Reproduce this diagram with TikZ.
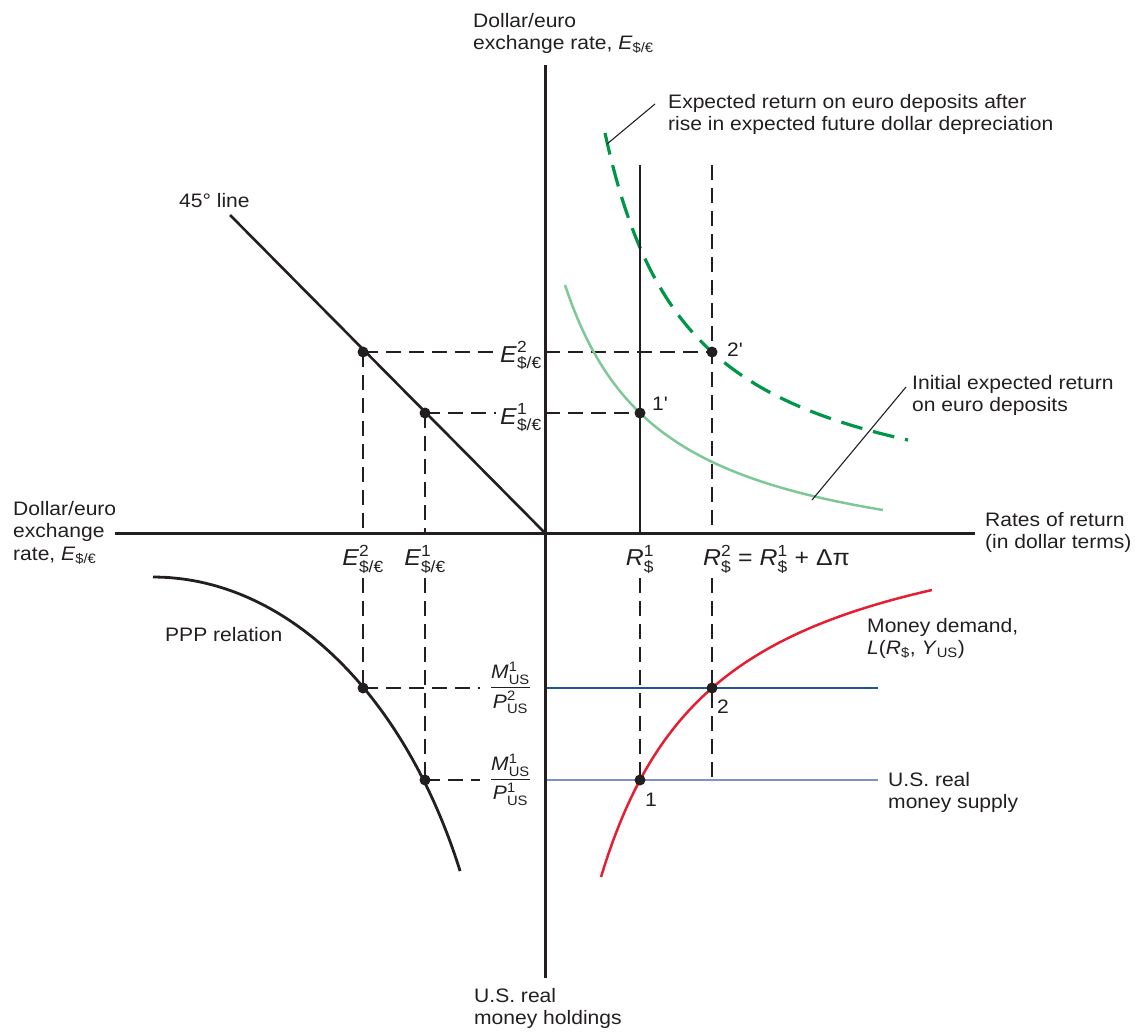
\documentclass[tikz,border=0pt]{standalone}
\usepackage{amsmath}
\usepackage{fontspec}
\setmainfont[FakeStretch=1.08]{Liberation Sans}
\usetikzlibrary{calc}
\definecolor{ink}{RGB}{35,31,32}
\definecolor{dgreen}{RGB}{0,150,72}
\definecolor{lgreen}{RGB}{125,200,150}
\definecolor{mred}{RGB}{230,30,50}
\definecolor{dblue}{RGB}{30,85,150}
\definecolor{lblue}{RGB}{125,145,205}
\newcommand\Esub[1]{\textit{E}$^{\text{#1}}_{\text{\$/€}}$}
\newcommand\Rsub[1]{\textit{R}$^{\text{#1}}_{\text{\$}}$}
\begin{document}
\begin{tikzpicture}[x=1pt,y=-1pt,
  txt/.style={font=\fontsize{19.5}{22.5}\selectfont, text=ink, align=left, inner sep=0pt, anchor=north west},
  mlab/.style={font=\fontsize{23}{25}\selectfont, text=ink, inner sep=0pt},
  fraclab/.style={font=\fontsize{19.5}{21}\selectfont, text=ink, inner xsep=10pt, inner ysep=0pt},
  axisline/.style={draw=ink, line width=3pt},
  guide/.style={draw=ink, line width=1.3pt, dash pattern=on 15pt off 8pt},
  leader/.style={draw=ink, line width=1.1pt},
  dot/.style={circle, fill=ink, inner sep=0pt, minimum size=11pt},
  curve/.style={line width=2.5pt}]
\useasboundingbox (0,0) rectangle (1136,1034);

% ---------- coordinates ----------
\coordinate (O) at (545,533);
\coordinate (vtop) at (545,65);
\coordinate (vbot) at (545,978);
\coordinate (hl) at (115,533);
\coordinate (hr) at (975,533);
\coordinate (l45) at (230,215);
\coordinate (cE2) at (363,352);
\coordinate (cE1) at (425,413);
\coordinate (cA) at (363,688);
\coordinate (cB) at (425,780);
\coordinate (c1p) at (640,413);
\coordinate (c2p) at (712,352);
\coordinate (c1) at (640,780);
\coordinate (c2) at (712,688);
\coordinate (c2low) at (712,780);
\coordinate (s1top) at (640,165);
\coordinate (s2top) at (712,165);
\coordinate (gA) at (363,578);
\coordinate (gB) at (425,578);
\coordinate (g1) at (640,578);
\coordinate (g2) at (712,578);
\coordinate (bAend) at (878,688);
\coordinate (bBend) at (878,780);
\coordinate (ldAfrom) at (607,144);
\coordinate (ldAto) at (655,104);
\coordinate (ldBfrom) at (812,500);
\coordinate (ldBto) at (906,387);

% ---------- text labels ----------
\node[txt] (ytitle) at (473,13) {Dollar/euro\\exchange rate, \textit{E}$_{\text{\$/€}}$};
\node[txt] (xtitleL) at (13,501) {Dollar/euro\\exchange\\rate, \textit{E}$_{\text{\$/€}}$};
\node[txt] (xtitleR) at (985,512) {Rates of return\\(in dollar terms)};
\node[txt] (btitle) at (474,988) {U.S. real\\money holdings};
\node[txt] (annA) at (668,94) {Expected return on euro deposits after\\rise in expected future dollar depreciation};
\node[txt] (annB) at (912,375) {Initial expected return\\on euro deposits};
\node[txt] (mdlab) at (867,618) {Money demand,\\\textit{L}(\textit{R}$_{\text{\$}}$, \textit{Y}$_{\text{US}}$)};
\node[txt] (mslab) at (888,772) {U.S. real\\money supply};
\node[txt] (l45lab) at (179,193) {45° line};
\node[txt] (ppplab) at (165,627) {PPP relation};
\node[txt] (n1p) at (652,397) {1\textquotesingle};
\node[txt] (n2p) at (727,343) {2\textquotesingle};
\node[txt] (n1) at (645,793) {1};
\node[txt] (n2) at (717,700) {2};

\node[mlab, anchor=base west, inner xsep=4pt] (lE2) at (496,362) {\Esub{2}};
\node[mlab, anchor=base west, inner xsep=4pt] (lE1) at (496,424) {\Esub{1}};
\node[mlab, anchor=north] (bE2) at (363,545) {\Esub{2}};
\node[mlab, anchor=north] (bE1) at (425,545) {\Esub{1}};
\node[mlab, anchor=north] (bR1) at (640,545) {\Rsub{1}};
\node[mlab, anchor=north west] (bR2) at (703,545) {\Rsub{2} = \Rsub{1} + Δπ};
\node[fraclab, anchor=base] (fA) at (510.5,693) {$\displaystyle\frac{\textit{M}^{\text{1}}_{\text{US}}}{\textit{P}^{\text{2}}_{\text{US}}}$};
\node[fraclab, anchor=base] (fB) at (510.5,785) {$\displaystyle\frac{\textit{M}^{\text{1}}_{\text{US}}}{\textit{P}^{\text{1}}_{\text{US}}}$};

% ---------- guide lines ----------
\draw[guide] (cE2) -- (cE2 -| lE2.west);
\draw[guide] (cE1) -- (cE1 -| lE1.west);
\draw[guide] (O |- cE2) -- (c2p);
\draw[guide] (O |- cE1) -- (c1p);
\draw[guide] (cE2) -- (cE2 |- O);
\draw[guide] (cE1) -- (cE1 |- O);
\draw[guide] (s2top) -- (c2p) -- (c2p |- O);
\draw[guide] (gA) -- (cA);
\draw[guide] (gB) -- (cB);
\draw[guide] (g1) -- (c1);
\draw[guide] (g2) -- (c2) -- (c2low);
\draw[guide] (cA) -- (cA -| fA.west);
\draw[guide] (cB) -- (cB -| fB.west);

% ---------- curves ----------
\draw[curve, lgreen] plot[domain=5.65:8.83, samples=90] ({100*\x},{578.7-285.2/(\x-4.679)});
\draw[dgreen, line width=3.2pt, dash pattern=on 22pt off 11pt] plot[domain=6.05:9.08, samples=90] ({100*\x},{526.3-334.88/(\x-5.1985)});
\draw[curve, mred] plot[domain=6.01:9.32, samples=90] ({100*\x},{488.3+455.97/(\x-4.837)});
\draw[ink, line width=2.8pt] plot[domain=90:25.4, samples=90] ({153+340*cos(\x)},{1092-515*sin(\x)});
\draw[dblue, line width=2.6pt] (O |- cA) -- (bAend);
\draw[lblue, line width=2.6pt] (O |- cB) -- (bBend);
\draw[ink, line width=2.6pt] (l45) -- (O);
\draw[axisline, line width=2.8pt] (s1top) -- (c1p |- O);

% ---------- leaders ----------
\draw[leader] (ldAfrom) -- (ldAto);
\draw[leader] (ldBfrom) -- (ldBto);

% ---------- axes ----------
\draw[axisline] (vtop) -- (vbot);
\draw[axisline] (hl) -- (hr);

% ---------- dots ----------
\node[dot] (dE2) at (cE2) {};
\node[dot] (dE1) at (cE1) {};
\node[dot] (dA) at (cA) {};
\node[dot] (dB) at (cB) {};
\node[dot] (d1p) at (c1p) {};
\node[dot] (d2p) at (c2p) {};
\node[dot] (d1) at (c1) {};
\node[dot] (d2) at (c2) {};
\end{tikzpicture}
\end{document}
